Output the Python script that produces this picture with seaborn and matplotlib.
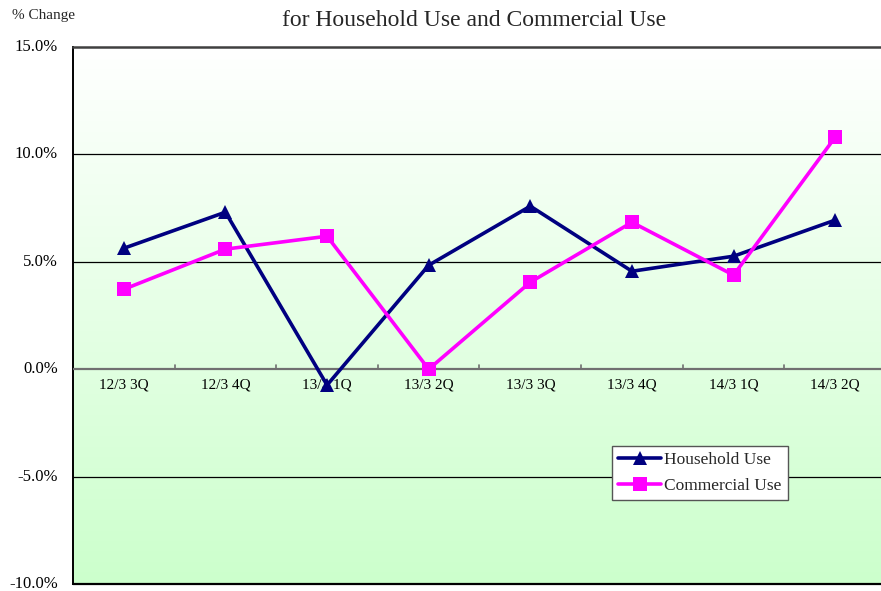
import numpy as np
import pandas as pd
import matplotlib
matplotlib.use("Agg")
import matplotlib.pyplot as plt
import matplotlib.transforms as mtransforms
import seaborn as sns
from matplotlib.colors import LinearSegmentedColormap
from matplotlib.ticker import FuncFormatter

categories = ["12/3 3Q", "12/3 4Q", "13/3 1Q", "13/3 2Q", "13/3 3Q", "13/3 4Q", "14/3 1Q", "14/3 2Q"]
household = [5.63, 7.31, -0.74, 4.84, 7.59, 4.56, 5.26, 6.94]
commercial = [3.72, 5.59, 6.19, 0.00, 4.05, 6.84, 4.38, 10.80]
yticks = [-10, -5, 0, 5, 10, 15]

sns.set_theme(style="white")
plt.rcParams['font.family'] = ['Liberation Serif', 'DejaVu Serif']

fig = plt.figure(figsize=(8.81, 5.91), dpi=100)
W, H = 881, 591
left_px, right_px, top_px, bot_px = 73, 886, 47, 584
ax = fig.add_axes([left_px / W, 1 - bot_px / H, (right_px - left_px) / W, (bot_px - top_px) / H])

ax.set_xlim(-0.5, len(categories) - 0.5)

# gradient background (white at top, light green at bottom)
cmap = LinearSegmentedColormap.from_list("bg", ["#ffffff", "#ccffcc"])
grad = np.linspace(0, 1, 256).reshape(-1, 1)
ax.imshow(grad, cmap=cmap, aspect="auto", extent=(-0.5, len(categories) - 0.5, -10, 15),
          origin="upper", zorder=0)
ax.set_ylim(-10, 15)

df = pd.DataFrame({
    "x": list(range(len(categories))) * 2,
    "value": household + commercial,
    "series": ["Household Use"] * len(categories) + ["Commercial Use"] * len(categories),
})

sns.lineplot(data=df, x="x", y="value", hue="series", style="series",
             palette={"Household Use": "#000080", "Commercial Use": "#ff00ff"},
             markers={"Household Use": "^", "Commercial Use": "s"},
             dashes=False, markersize=10, linewidth=2.6, markeredgewidth=0,
             sort=False, ax=ax, zorder=5)

# gridlines
for yv in [-5, 5, 10]:
    ax.axhline(yv, color="black", linewidth=0.9, zorder=2)
ax.axhline(-10, color="black", linewidth=1.6, zorder=3, clip_on=False)
ax.axhline(0, color="#707070", linewidth=1.6, zorder=3)

for s in ["right", "bottom"]:
    ax.spines[s].set_visible(False)
ax.spines["top"].set_color("#404040")
ax.spines["top"].set_linewidth(1.8)
ax.spines["left"].set_color("black")
ax.spines["left"].set_linewidth(1.4)

ax.set_yticks(yticks)
ax.yaxis.set_major_formatter(FuncFormatter(lambda v, p: f"{v:.1f}%"))
ax.tick_params(axis="y", length=0, pad=11, labelsize=12, colors="black")
shift = mtransforms.ScaledTranslation(0, 2 / 100, fig.dpi_scale_trans)
for lbl in ax.get_yticklabels():
    lbl.set_transform(lbl.get_transform() + shift)

# x labels just below zero line
ax.set_xticks([])
for i in range(len(categories) - 1):
    ax.plot([i + 0.5, i + 0.5], [0, 0.2], color="#707070", linewidth=1.2, zorder=3)
for i, c in enumerate(categories):
    ax.text(i, -0.45, c, ha="center", va="top", fontsize=11, color="black", zorder=4)

ax.set_xlabel("")
ax.set_ylabel("")

leg = ax.legend(loc="upper left", bbox_to_anchor=(0.663, 0.257), fontsize=12.5,
                frameon=True, fancybox=False, framealpha=1, edgecolor="#555555",
                handlelength=2.5, handletextpad=0.15, borderpad=0.35, labelspacing=0.55,
                borderaxespad=0)
leg.get_frame().set_linewidth(1.0)
leg.set_zorder(10)

fig.text(12 / W, 1 - 16 / H, "% Change", fontsize=11, ha="left", va="center")
fig.text(474 / W, 1 - 20 / H, "for Household Use and Commercial Use", fontsize=17, ha="center", va="center")

fig.savefig("out.png", dpi=100)
